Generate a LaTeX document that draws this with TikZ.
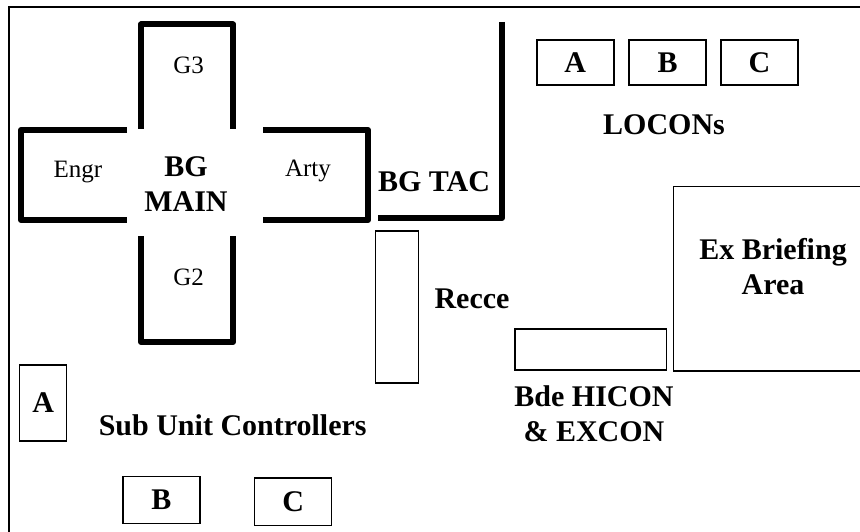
\documentclass[tikz,border=0pt]{standalone}
\usepackage{fontspec}
\setmainfont{Liberation Serif}

\begin{document}
\begin{tikzpicture}[x=1pt,y=-1pt,
  wall/.style={line width=6pt,line join=round},
  box/.style={draw,line width=1.5pt,inner sep=0pt},
  small/.style={font=\fontsize{25}{30}\selectfont,anchor=base},
  big/.style={font=\fontsize{30}{35}\selectfont\bfseries,align=center}]
\clip (0,0) rectangle (860,532);
\fill[white] (0,0) rectangle (860,532);

% frame
\draw[line width=2pt] (9,560) -- (9,7) -- (880,7);

% BG MAIN
\draw[wall] (141,129) -- (141,24.5) -- (233,24.5) -- (233,129);
\draw[wall] (127,130) -- (21,130) -- (21,220) -- (127,220);
\draw[wall] (263,130) -- (368,130) -- (368,220) -- (263,220);
\draw[wall] (141,236) -- (141,342) -- (233,342) -- (233,236);
% BG TAC
\draw[wall] (502,22) -- (502,218) -- (378,218);

\node[small] (G3) at (188.7,74) {G3};
\node[small] (G2) at (188.7,285) {G2};
\node[small] (Engr) at (78,178) {Engr};
\node[small] (Arty) at (308,177) {Arty};
\node[big] (Main) at (186,184) {BG\\MAIN};
\node[big,anchor=base] (Tac) at (434,192) {BG TAC};

% LOCONs
\node[box,big,minimum width=77pt,minimum height=45pt] (LA) at (575.3,62.5) {A};
\node[box,big,minimum width=77pt,minimum height=45pt] (LB) at (667.5,62.5) {B};
\node[box,big,minimum width=77pt,minimum height=45pt] (LC) at (759.5,62.5) {C};
\node[big,anchor=base] (Locon) at (664,135) {LOCONs};

% Recce
\node[box,minimum width=42.6pt,minimum height=152pt] (RecBox) at (397,307) {};
\node[big,anchor=base] (Recce) at (472,308) {Recce};

% Bde HICON
\node[box,minimum width=151.7pt,minimum height=41pt] (HiBox) at (590.8,349.5) {};
\node[big] (Hicon) at (594,414) {Bde HICON\\\& EXCON};

% Ex Briefing
\draw[line width=1.5pt] (673.7,186.7) rectangle (880,371);
\node[big] (Brief) at (773,267) {Ex Briefing\\Area};

% Sub units
\node[box,big,minimum width=47pt,minimum height=76pt] (SA) at (43.2,403) {A};
\node[box,big,minimum width=77pt,minimum height=46.7pt] (SB) at (161.3,500) {B};
\node[box,big,minimum width=77pt,minimum height=47.7pt] (SC) at (293.2,501.8) {C};
\node[big,anchor=base] (Sub) at (232.7,435) {Sub Unit Controllers};
\end{tikzpicture}
\end{document}
